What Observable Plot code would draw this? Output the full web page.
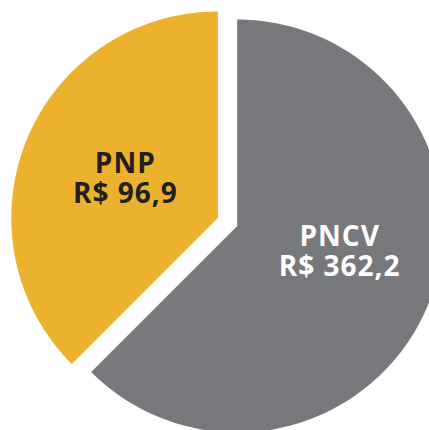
<!DOCTYPE html>
<html><head><meta charset="utf-8">
<script src="https://cdn.jsdelivr.net/npm/d3@7"></script>
<script src="https://cdn.jsdelivr.net/npm/@observablehq/plot@0.6"></script>
<style>
html,body{margin:0;padding:0;background:#fff;overflow:hidden;}
#chart{width:429px;height:430px;overflow:hidden;}
#chart svg text{letter-spacing:1px;}
</style></head><body><div id="chart"></div>
<script>
// ---- data ----
const categories = ["PNCV", "PNP"];
const values = [362.2, 96.9];
const valueLabels = ["R$ 362,2", "R$ 96,9"];
const drawnShare = [62.5, 37.5]; // angular share of each slice as drawn in the picture (%)
const sliceColors = ["#77787b", "#ecb22d"];
const textColors = ["#ffffff", "#231f20"];

// ---- layout ----
const W = 429, H = 430;
const cx = 227, cy = 221.5;   // pie centre in the frame
const R = 206.5, explode = 10.5;

const pie = d3.pie().sort(null).value((d, i) => drawnShare[i])(categories);
const slicePts = [];
const labels = [];
pie.forEach((p, i) => {
  const mid = (p.startAngle + p.endAngle) / 2;
  const ox = explode * Math.sin(mid), oy = explode * Math.cos(mid);
  const key = categories[i];
  slicePts.push({key, x: ox, y: oy, color: sliceColors[i]});
  const n = 180;
  for (let k = 0; k <= n; k++) {
    const t = p.startAngle + (p.endAngle - p.startAngle) * k / n;
    slicePts.push({key, x: ox + R * Math.sin(t), y: oy + R * Math.cos(t), color: sliceColors[i]});
  }
  slicePts.push({key, x: ox, y: oy, color: sliceColors[i]});
  const lr = R * 0.49;
  labels.push({key, x: ox + lr * Math.sin(mid), y: oy + lr * Math.cos(mid),
               text: categories[i] + "\n" + valueLabels[i], color: textColors[i]});
});

const textOpts = {x: "x", y: "y", text: "text", fill: "color",
  fontSize: 28, fontWeight: 700, fontFamily: "Open Sans", lineHeight: 1.07};

const chart = Plot.plot({
  width: W, height: H, margin: 0,
  x: {domain: [-cx, W - cx], axis: null},
  y: {domain: [-(H - cy), cy], axis: null},
  color: {type: "identity"},
  style: {background: "#fff", overflow: "hidden"},
  marks: [
    Plot.line(slicePts, {x: "x", y: "y", z: "key", fill: "color", stroke: null, clip: true}),
    Plot.text(labels.filter(d => d.key === "PNP"), {...textOpts, dx: 1, dy: -1}),
    Plot.text(labels.filter(d => d.key === "PNCV"), {...textOpts, dx: 9, dy: -13})
  ]
});
document.getElementById("chart").append(chart);
</script></body></html>
